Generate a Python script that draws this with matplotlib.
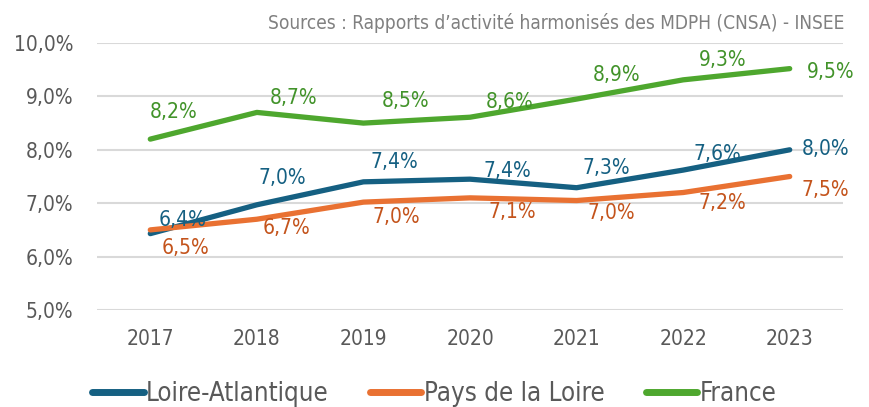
import matplotlib.pyplot as plt
from matplotlib.ticker import FuncFormatter

plt.rcParams['font.family'] = ['DejaVu Sans']
plt.rcParams['font.stretch'] = 'condensed'

annees = ['2017', '2018', '2019', '2020', '2021', '2022', '2023']
loire_atlantique = [6.43, 6.97, 7.40, 7.45, 7.29, 7.62, 8.00]
pays_de_la_loire = [6.50, 6.70, 7.02, 7.10, 7.05, 7.20, 7.50]
france = [8.20, 8.70, 8.50, 8.61, 8.95, 9.31, 9.52]

lab_la = ['6,4%', '7,0%', '7,4%', '7,4%', '7,3%', '7,6%', '8,0%']
lab_pdl = ['6,5%', '6,7%', '7,0%', '7,1%', '7,0%', '7,2%', '7,5%']
lab_fr = ['8,2%', '8,7%', '8,5%', '8,6%', '8,9%', '9,3%', '9,5%']

# décalage des étiquettes (pixels)
off_la = [(32, 14), (25, 27), (31, 20), (37, 8), (30, 20), (34, 16), (36, 1)]
off_pdl = [(35, -18), (30, -9), (33, -15), (42, -14), (35, -12), (39, -10), (36, -14)]
off_fr = [(23, 27), (37, 14), (42, 22), (40, 15), (40, 24), (40, 20), (41, -3)]

c_bleu = '#156082'
c_orange = '#E97132'
c_vert = '#4EA72E'

fig = plt.figure(figsize=(8.69, 4.07), dpi=100)
ax = fig.add_axes([97/869, 97/407, 746/869, 267/407])

x = list(range(len(annees)))
series = [
    (loire_atlantique, lab_la, off_la, c_bleu, '#156082', 'Loire-Atlantique'),
    (pays_de_la_loire, lab_pdl, off_pdl, c_orange, '#C4541C', 'Pays de la Loire'),
    (france, lab_fr, off_fr, c_vert, '#42932A', 'France'),
]
for vals, labs, offs, c, ct, nom in series:
    ax.plot(x, vals, color=c, lw=3.8, solid_capstyle='round', solid_joinstyle='round', label=nom, zorder=3)
    for i in range(len(x)):
        ax.annotate(labs[i], (x[i], vals[i]), xytext=offs[i], textcoords='offset pixels',
                    ha='center', va='center', color=ct, fontsize=15, zorder=4)

ax.set_xlim(-0.5, len(x) - 0.5)
ax.set_ylim(5, 10)
ax.set_yticks([5, 6, 7, 8, 9, 10])
ax.yaxis.set_major_formatter(FuncFormatter(lambda v, p: f'{v:.1f}%'.replace('.', ',')))
ax.set_xticks(x)
ax.set_xticklabels(annees)
ax.tick_params(axis='both', length=0, labelsize=15, colors='#595959')
ax.tick_params(axis='x', pad=14)
ax.tick_params(axis='y', pad=17)
ax.grid(axis='y', color='#D9D9D9', lw=1.5)
ax.set_axisbelow(True)
for s in ax.spines.values():
    s.set_visible(False)

fig.text(844/869, 1 - 23/407, 'Sources : Rapports d\u2019activité harmonisés des MDPH (CNSA) - INSEE',
         ha='right', va='center', fontsize=13.7, color='#808080')

leg = fig.legend(loc='center', bbox_to_anchor=(0.5, 1 - 394/407), ncol=3, frameon=False,
                 fontsize=18.5, handlelength=2.0, handletextpad=0.1, columnspacing=1.6)
for t in leg.get_texts():
    t.set_color('#595959')
for h in leg.get_lines():
    h.set_linewidth(5)
    h.set_solid_capstyle('round')

fig.savefig('out.png', dpi=100)
